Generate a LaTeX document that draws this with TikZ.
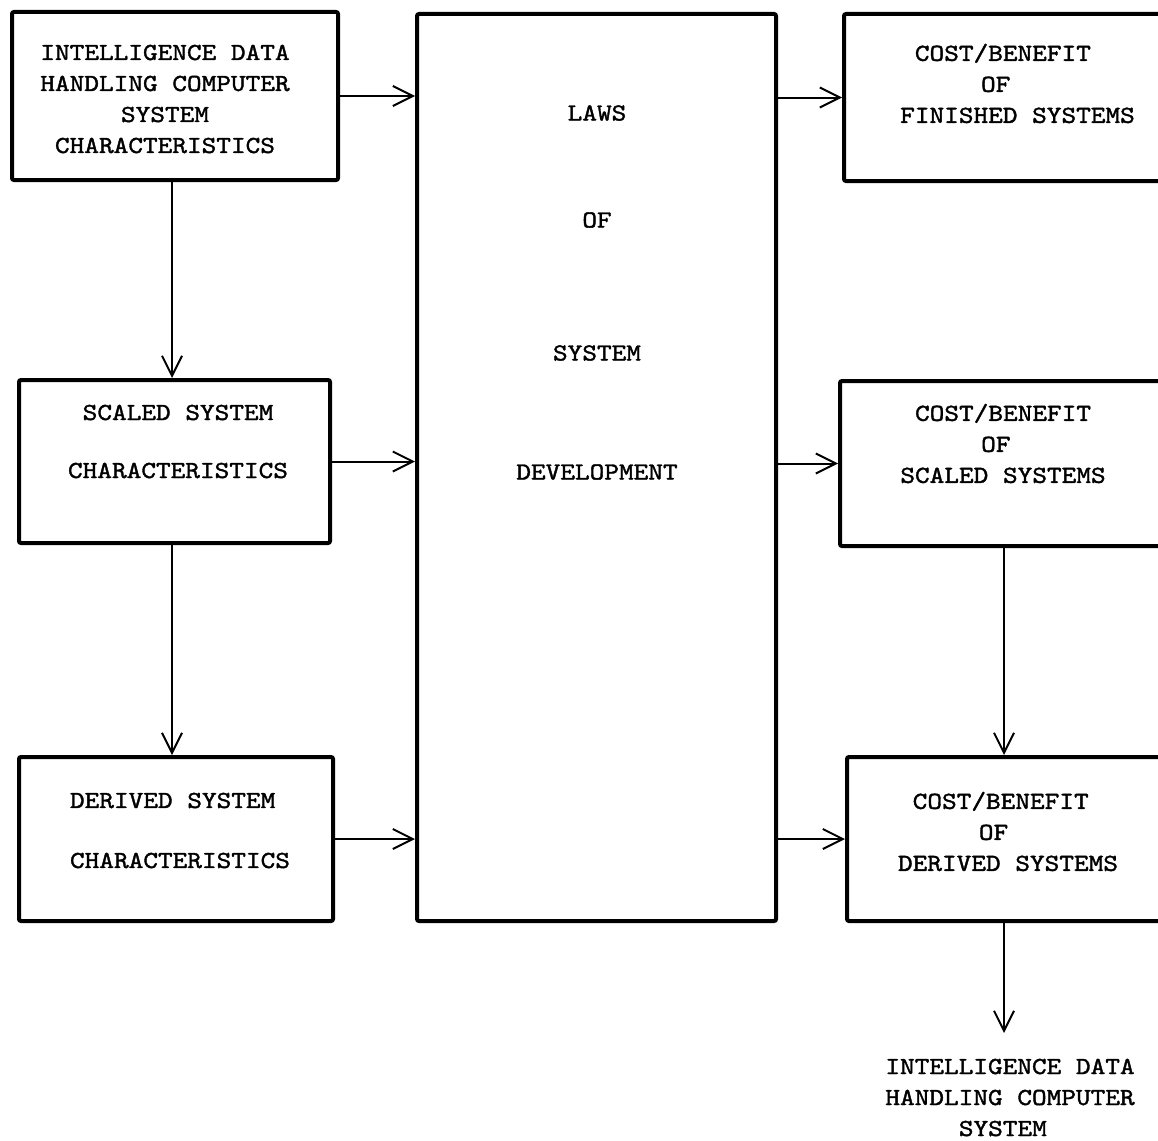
\documentclass[tikz,border=0pt]{standalone}
\usepackage{fontspec}
\newfontfamily\typefont[FakeStretch=1.14, FakeBold=1.5]{lmmono10-regular.otf}
\usetikzlibrary{arrows.meta}
% one typewriter character is 0.6em wide
\newcommand\indentby[1]{\hspace*{#1em}}
\begin{document}
\begin{tikzpicture}[x=1pt,y=-1pt,
  box/.style={draw, line width=4pt, rounded corners=2pt, inner sep=0pt, rectangle},
  link/.style={line width=2pt, -{Straight Barb[length=20pt,width=20pt,line width=2pt]}},
  txt/.style={font=\typefont\fontsize{24.5}{31}\selectfont, align=left, inner sep=0pt}]
\useasboundingbox (0,0) rectangle (1158,1140);
\clip (0,0) rectangle (1158,1140);

% boxes
\node[box, minimum width=326pt, minimum height=168pt] (tl) at (175,96) {};
\node[box, minimum width=311pt, minimum height=163pt] (lm) at (174.5,461.5) {};
\node[box, minimum width=314pt, minimum height=164pt] (lb) at (176,839) {};
\node[box, minimum width=359pt, minimum height=907pt] (law) at (596.5,467.5) {};
\node[box, minimum width=326pt, minimum height=167pt] (rt) at (1007,97.5) {};
\node[box, minimum width=330pt, minimum height=165pt] (rm) at (1005,463.5) {};
\node[box, minimum width=323pt, minimum height=164pt] (rb) at (1008.5,839) {};

% texts
\node[txt, align=center] (tltext) at (165,99)
  {INTELLIGENCE DATA\\HANDLING COMPUTER\\SYSTEM\\CHARACTERISTICS};
\node[txt] (lmtext) at (178,441.5)
  {\indentby{0.6}SCALED SYSTEM\\[27pt]CHARACTERISTICS};
\node[txt] (lbtext) at (180,830.5)
  {DERIVED SYSTEM\\[29pt]CHARACTERISTICS};
\node[txt, align=center] (lawtext) at (597,292.5)
  {LAWS\\[76pt]OF\\[102pt]SYSTEM\\[88pt]DEVELOPMENT};
\node[txt] (rttext) at (1017.5,83.5)
  {\indentby{0.6}COST/BENEFIT\\\indentby{3.3}OF\\FINISHED SYSTEMS};
\node[txt] (rmtext) at (1003,443.5)
  {\indentby{0.6}COST/BENEFIT\\\indentby{3.3}OF\\SCALED SYSTEMS};
\node[txt] (rbtext) at (1008,831.5)
  {\indentby{0.6}COST/BENEFIT\\\indentby{3.3}OF\\DERIVED SYSTEMS};
\node[txt] (outtext) at (1010,1097.5)
  {INTELLIGENCE DATA\\HANDLING COMPUTER\\\indentby{3}SYSTEM};
\coordinate (outtip) at (1004,1033);

% connectors
\draw[link] (tl.east) -- (tl.east -| law.west);
\draw[link] (lm.east) -- (lm.east -| law.west);
\draw[link] (lb.east) -- (lb.east -| law.west);
\draw[link] (law.east |- rt.west) -- (rt.west);
\draw[link] (law.east |- rm.west) -- (rm.west);
\draw[link] (law.east |- rb.west) -- (rb.west);
\draw[link] ([xshift=-3pt]tl.south) -- ([xshift=-3pt]tl.south |- lm.north);
\draw[link] ([xshift=-2.5pt]lm.south) -- ([xshift=-2.5pt]lm.south |- lb.north);
\draw[link] (rm.south -| outtip) -- (rb.north -| outtip);
\draw[link] (rb.south -| outtip) -- (outtip);
\end{tikzpicture}
\end{document}
